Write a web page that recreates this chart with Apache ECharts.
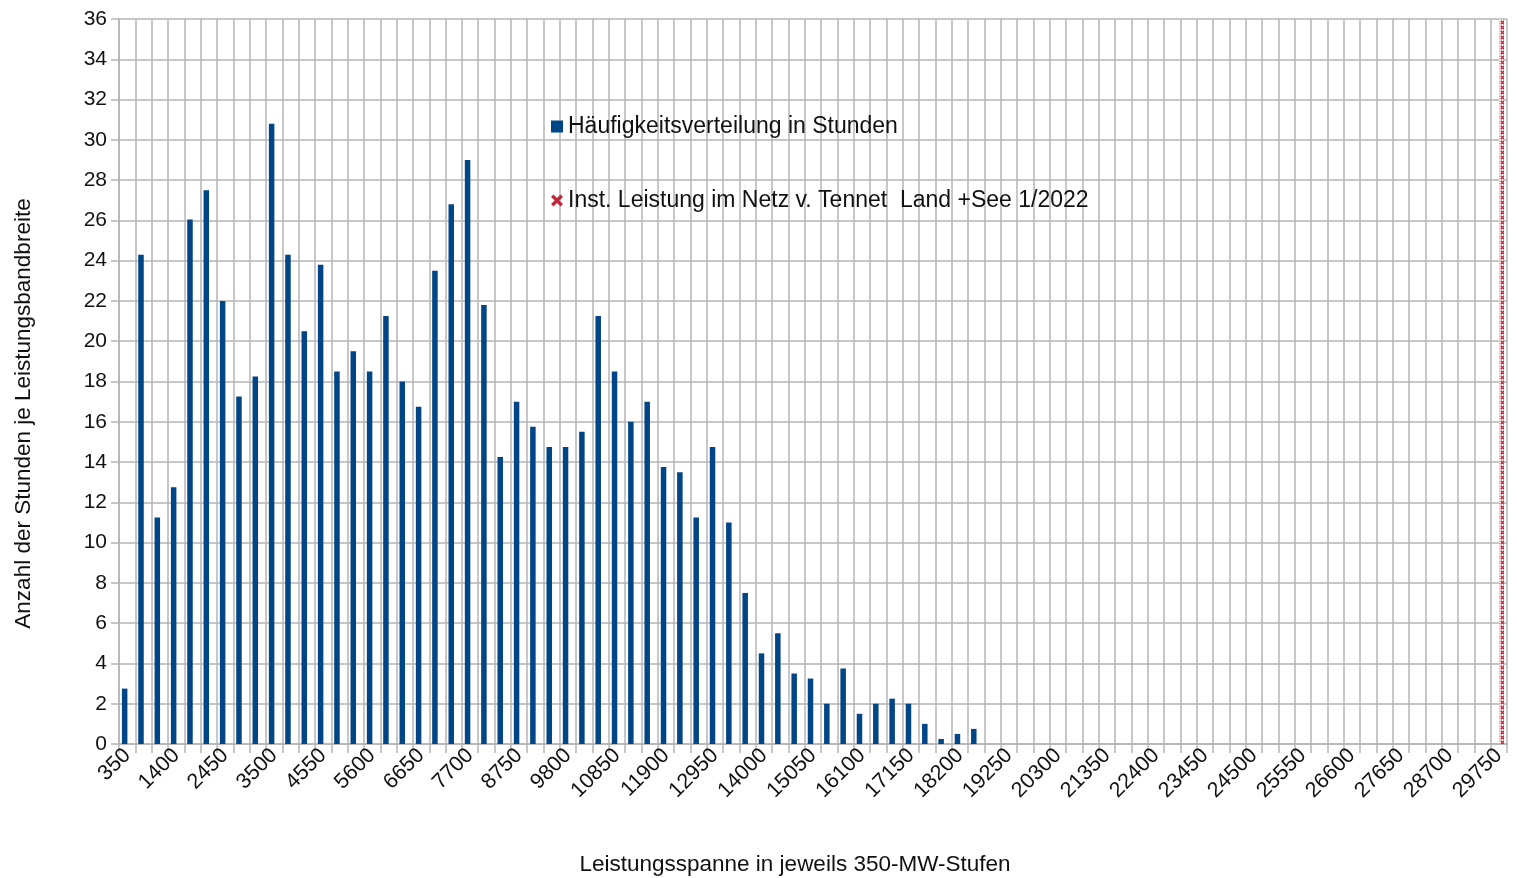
<!DOCTYPE html>
<html>
<head>
<meta charset="utf-8">
<script src="https://cdn.jsdelivr.net/npm/echarts@6/dist/echarts.min.js"></script>
<style>
html,body{margin:0;padding:0;background:#fff;}
#chart{width:1517px;height:878px;}
</style>
</head>
<body>
<div id="chart"></div>
<script>
// Categories: power bands in 350-MW steps
const categories = ['350','700','1050','1400','1750','2100','2450','2800','3150','3500','3850','4200','4550','4900','5250','5600','5950','6300','6650','7000','7350','7700','8050','8400','8750','9100','9450','9800','10150','10500','10850','11200','11550','11900','12250','12600','12950','13300','13650','14000','14350','14700','15050','15400','15750','16100','16450','16800','17150','17500','17850','18200','18550','18900','19250','19600','19950','20300','20650','21000','21350','21700','22050','22400','22750','23100','23450','23800','24150','24500','24850','25200','25550','25900','26250','26600','26950','27300','27650','28000','28350','28700','29050','29400','29750'];

// Frequency distribution in hours (one value per category)
const haeufigkeit = [2.75,24.3,11.25,12.75,26.05,27.5,22.0,17.25,18.25,30.8,24.3,20.5,23.8,18.5,19.5,18.5,21.25,18.0,16.75,23.5,26.8,29.0,21.8,14.25,17.0,15.75,14.75,14.75,15.5,21.25,18.5,16.0,17.0,13.75,13.5,11.25,14.75,11.0,7.5,4.5,5.5,3.5,3.25,2.0,3.75,1.5,2.0,2.25,2.0,1.0,0.25,0.5,0.75,0,0,0,0,0,0,0,0,0,0,0,0,0,0,0,0,0,0,0,0,0,0,0,0,0,0,0,0,0,0,0,0];

// Installed capacity marker (category, value)
const instLeistung = [['29750', 36]];

const yTicks = {min: 0, max: 36, interval: 2};

const seriesNames = ['Häufigkeitsverteilung in Stunden', 'Inst. Leistung im Netz v. Tennet  Land +See 1/2022'];

// small cross pattern for the red column
const pat = document.createElement('canvas');
pat.width = 5; pat.height = 5;
const pc = pat.getContext('2d');
pc.fillStyle = '#fbeff1'; pc.fillRect(0,0,5,5);
pc.strokeStyle = '#c0283a'; pc.lineWidth = 1.4;
pc.beginPath(); pc.moveTo(0.8,0.8); pc.lineTo(4.2,4.2); pc.moveTo(4.2,0.8); pc.lineTo(0.8,4.2); pc.stroke();

const chart = echarts.init(document.getElementById('chart'), null, {renderer: 'canvas'});
const font = '"Liberation Sans", Arial, sans-serif';
const gridColor = '#b5b5b5';
chart.setOption({
  animation: false,
  backgroundColor: '#fff',
  textStyle: {fontFamily: font},
  grid: {left: 119, right: 10, top: 19, bottom: 134, containLabel: false, outerBoundsMode: 'none'},
  legend: {
    orient: 'vertical', left: 546, top: 110, itemGap: 51,
    itemWidth: 12, itemHeight: 12,
    textStyle: {fontSize: 23, color: '#111', fontFamily: font},
    data: [
      {name: seriesNames[0], icon: 'rect', itemStyle: {color: '#004586'}},
      {name: seriesNames[1], icon: 'path://M2,0L5,3L8,0L10,2L7,5L10,8L8,10L5,7L2,10L0,8L3,5L0,2Z', itemStyle: {color: '#c0283a'}}
    ]
  },
  xAxis: {
    type: 'category', data: categories, boundaryGap: true,
    name: 'Leistungsspanne in jeweils 350-MW-Stufen',
    nameLocation: 'middle', nameGap: 109,
    nameTextStyle: {fontSize: 22.5, color: '#111', padding: [0, 36, 0, 0]},
    axisLine: {lineStyle: {color: gridColor, width: 1.5}},
    axisTick: {show: true, interval: 0, length: 9, lineStyle: {color: gridColor, width: 1.5}},
    splitLine: {show: true, interval: 0, lineStyle: {color: gridColor, width: 1.5}},
    axisLabel: {interval: 2, rotate: 45, fontSize: 21.5, color: '#111', margin: 8}
  },
  yAxis: {
    type: 'value', min: yTicks.min, max: yTicks.max, interval: yTicks.interval,
    name: 'Anzahl der Stunden je Leistungsbandbreite',
    nameLocation: 'middle', nameGap: 84,
    nameTextStyle: {fontSize: 22.5, color: '#111', padding: [0, 0, 0, -64]},
    axisLine: {show: true, lineStyle: {color: gridColor, width: 1.5}},
    axisTick: {show: true, length: 8, lineStyle: {color: gridColor, width: 1.5}},
    splitLine: {show: true, lineStyle: {color: gridColor, width: 1.5}},
    axisLabel: {fontSize: 21, color: '#111', margin: 12}
  },
  series: [
    {name: seriesNames[0], type: 'bar', data: haeufigkeit, barWidth: 5.5, barGap: '0%',
     itemStyle: {color: '#004586'}},
    {name: seriesNames[1], type: 'bar', data: instLeistung, barWidth: 5, barGap: '0%',
     itemStyle: {color: {image: pat, repeat: 'repeat'}}}
  ]
});
</script>
</body>
</html>
